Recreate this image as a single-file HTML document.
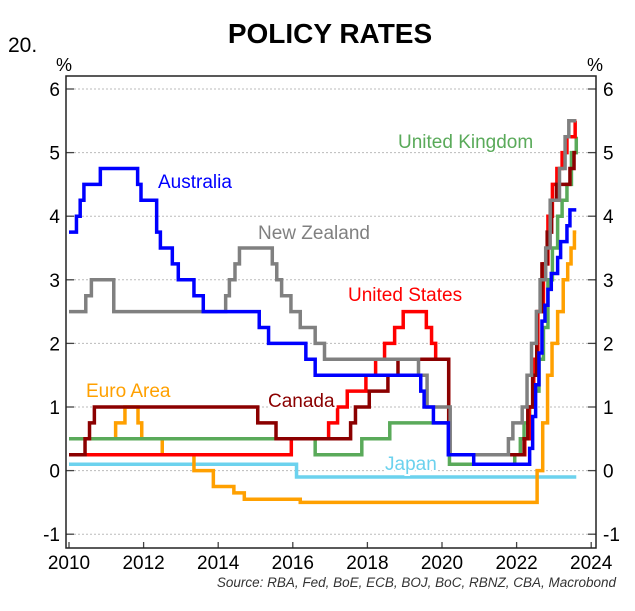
<!DOCTYPE html>
<html><head><meta charset="utf-8"><style>
body{margin:0;background:#fff;}
svg text{font-family:"Liberation Sans",sans-serif;}
</style></head><body>
<svg id="chart" width="635" height="606" viewBox="0 0 635 606" xmlns="http://www.w3.org/2000/svg">
<text x="330" y="43" font-size="28" font-weight="bold" text-anchor="middle">POLICY RATES</text>
<text x="8" y="52" font-size="21">20.</text>
<text x="56" y="71" font-size="18">%</text>
<text x="587" y="71" font-size="18">%</text>
<g id="grid"></g><g id="series"></g><g id="axes"></g>
<text x="616" y="587" font-size="13.5" font-style="italic" fill="#333" text-anchor="end">Source: RBA, Fed, BoE, ECB, BOJ, BoC, RBNZ, CBA, Macrobond</text>
</svg>
<script>
const yTicks=[-1,0,1,2,3,4,5,6];
const xTicks=[2010,2012,2014,2016,2018,2020,2022,2024];
const endDate=2023.6;
const japan=[[2010,0.1],[2016.1,-0.1]];
const euro=[[2010,0.5],[2011.25,0.75],[2011.5,1.0],[2011.85,0.75],[2011.95,0.5],[2012.5,0.25],[2013.35,0],[2013.87,-0.25],[2014.42,-0.35],[2014.7,-0.45],[2016.2,-0.5],[2022.55,0],[2022.7,0.75],[2022.83,1.5],[2022.95,2.0],[2023.1,2.5],[2023.25,3.0],[2023.37,3.25],[2023.46,3.5],[2023.55,3.75]];
const uk=[[2010,0.5],[2016.6,0.25],[2017.85,0.5],[2018.6,0.75],[2020.2,0.1],[2021.95,0.25],[2022.1,0.5],[2022.2,0.75],[2022.35,1.0],[2022.46,1.25],[2022.6,1.75],[2022.72,2.25],[2022.84,3.0],[2022.96,3.5],[2023.1,4.0],[2023.22,4.25],[2023.35,4.5],[2023.47,5.0],[2023.6,5.25]];
const us=[[2010,0.25],[2015.96,0.5],[2016.96,0.75],[2017.2,1.0],[2017.46,1.25],[2017.96,1.5],[2018.22,1.75],[2018.46,2.0],[2018.73,2.25],[2018.96,2.5],[2019.58,2.25],[2019.72,2.0],[2019.83,1.75],[2020.18,0.25],[2022.22,0.5],[2022.34,1.0],[2022.46,1.75],[2022.57,2.5],[2022.72,3.25],[2022.84,4.0],[2022.96,4.5],[2023.08,4.75],[2023.22,5.0],[2023.35,5.25],[2023.57,5.5]];
const canada=[[2010,0.25],[2010.43,0.5],[2010.55,0.75],[2010.68,1.0],[2015.06,0.75],[2015.55,0.5],[2017.55,0.75],[2017.68,1.0],[2018.05,1.25],[2018.55,1.5],[2018.82,1.75],[2020.18,0.25],[2022.2,0.5],[2022.3,1.0],[2022.43,1.5],[2022.54,2.5],[2022.68,3.25],[2022.82,3.75],[2022.94,4.25],[2023.07,4.5],[2023.43,4.75],[2023.54,5.0]];
const nz=[[2010,2.5],[2010.45,2.75],[2010.6,3.0],[2011.2,2.5],[2014.2,2.75],[2014.3,3.0],[2014.45,3.25],[2014.57,3.5],[2015.45,3.25],[2015.57,3.0],[2015.7,2.75],[2015.95,2.5],[2016.2,2.25],[2016.6,2.0],[2016.85,1.75],[2019.37,1.5],[2019.6,1.0],[2020.22,0.25],[2021.78,0.5],[2021.9,0.75],[2022.15,1.0],[2022.28,1.5],[2022.4,2.0],[2022.53,2.5],[2022.63,3.0],[2022.78,3.5],[2022.9,4.25],[2023.15,4.75],[2023.3,5.25],[2023.4,5.5]];
const australia=[[2010,3.75],[2010.2,4.0],[2010.3,4.25],[2010.4,4.5],[2010.84,4.75],[2011.84,4.5],[2011.93,4.25],[2012.35,3.75],[2012.45,3.5],[2012.77,3.25],[2012.93,3.0],[2013.35,2.75],[2013.6,2.5],[2015.1,2.25],[2015.35,2.0],[2016.35,1.75],[2016.6,1.5],[2019.43,1.25],[2019.52,1.0],[2019.77,0.75],[2020.17,0.25],[2020.85,0.1],[2022.35,0.35],[2022.43,0.85],[2022.51,1.35],[2022.6,1.85],[2022.68,2.35],[2022.76,2.6],[2022.84,2.85],[2022.93,3.1],[2023.1,3.35],[2023.18,3.6],[2023.35,3.85],[2023.43,4.1]];
const L=66,R=596,T=76,B=548;
const X=d=>69+(d-2010)*37.3;
const Y=v=>470.6-v*63.6;
const NS="http://www.w3.org/2000/svg";
function mk(tag,attrs,parent){const e=document.createElementNS(NS,tag);for(const k in attrs)e.setAttribute(k,attrs[k]);parent.appendChild(e);return e;}
const grid=document.getElementById('grid'),axes=document.getElementById('axes'),ser=document.getElementById('series');
yTicks.forEach(v=>{
 const g=mk('line',{x1:L,x2:R,y1:Y(v),y2:Y(v),stroke:'#bbb','stroke-width':1,'stroke-dasharray':'2,2'},grid);
 
 
 mk('line',{x1:L,x2:L+8,y1:Y(v),y2:Y(v),stroke:'#444','stroke-width':1.3},axes);
 mk('line',{x1:R-8,x2:R,y1:Y(v),y2:Y(v),stroke:'#444','stroke-width':1.3},axes);
 const t1=mk('text',{x:L-6,y:Y(v)+7,'font-size':19,'text-anchor':'end'},axes);t1.textContent=v;
 
 
 const t2=mk('text',{x:R+7,y:Y(v)+7,'font-size':19},axes);t2.textContent=v;
 
 
});
xTicks.forEach(d=>{
 mk('line',{x1:X(d),x2:X(d),y1:B,y2:B-6,stroke:'#444','stroke-width':1.3},axes);
 const t=mk('text',{x:X(d),y:B+21,'font-size':19,'text-anchor':'middle'},axes);t.textContent=d;
 
 
});
const fr=mk('rect',{x:L,y:T,width:R-L,height:B-T,fill:'none',stroke:'#222','stroke-width':1.5},axes);


function step(data,color,name){
 let d='M'+X(data[0][0])+','+Y(data[0][1]);
 for(let i=1;i<data.length;i++){d+=' H'+X(data[i][0])+' V'+Y(data[i][1]);}
 d+=' H'+X(endDate);
 const p=mk('path',{d:d,fill:'none',stroke:color,'stroke-width':3.5,'stroke-linejoin':'miter'},ser);
 
 
}
step(japan,'#6cd2ee','japan-line');
step(euro,'#ffa000','euro-area-line');
step(uk,'#5aaa5a','uk-line');
step(us,'#ff0000','us-line');
step(canada,'#8b0000','canada-line');
step(nz,'#808080','new-zealand-line');
step(australia,'#0000ff','australia-line');
const labels=[['Australia',158,188,'#0000ff','label-australia'],['New Zealand',258,239,'#808080','label-new-zealand'],['United States',348,301,'#ff0000','label-united-states'],['United Kingdom',398,148,'#5aaa5a','label-united-kingdom'],['Canada',268,407,'#8b0000','label-canada'],['Euro Area',86,397,'#ffa000','label-euro-area'],['Japan',385,470,'#6cd2ee','label-japan']];
labels.forEach(l=>{
 const bg=mk('text',{x:l[1],y:l[2],'font-size':19,fill:'#fff',stroke:'#fff','stroke-width':4},ser);bg.textContent=l[0];
 
 
 const t=mk('text',{x:l[1],y:l[2],'font-size':19,fill:l[3]},ser);t.textContent=l[0];
 
 
});
</script>
</body></html>
